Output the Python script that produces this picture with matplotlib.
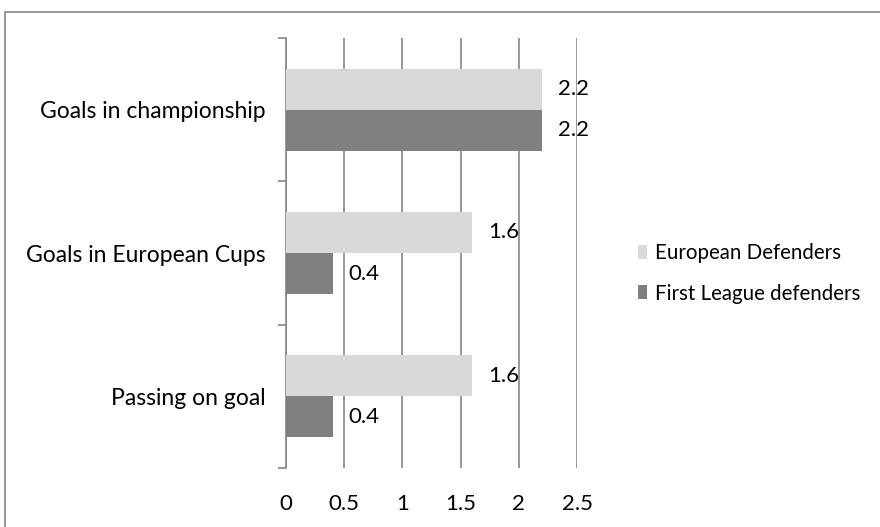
import matplotlib.pyplot as plt
import numpy as np
from matplotlib.patches import Rectangle

categories = ['Goals in championship', 'Goals in European Cups', 'Passing on goal']
european = [2.2, 1.6, 1.6]
first_league = [2.2, 0.4, 0.4]
xticks = [0, 0.5, 1, 1.5, 2, 2.5]
xticklabels = ['0', '0.5', '1', '1.5', '2', '2.5']

plt.rcParams['font.family'] = ['Lato', 'DejaVu Sans']

fig = plt.figure(figsize=(8.8, 5.27), dpi=100)
ax = fig.add_axes([286 / 880, 1 - 468 / 527, (577 - 286) / 880, (468 - 38) / 527])

# outer chart border
fig.patches.append(Rectangle((5 / 880, -0.1), 1.2, 1 - 12 / 527 + 0.1,
                             transform=fig.transFigure, fill=False,
                             edgecolor='#868686', lw=1.2))

y = np.arange(len(categories))
h = 0.287
ax.barh(y - h / 2, european, height=h, color='#d9d9d9', label='European Defenders', zorder=3)
ax.barh(y + h / 2, first_league, height=h, color='#808080', label='First League defenders', zorder=3)

for yi, v in zip(y, european):
    ax.text(v + 0.14, yi - h / 2, f'{v}', va='center', ha='left', fontsize=16, zorder=4)
for yi, v in zip(y, first_league):
    ax.text(v + 0.14, yi + h / 2, f'{v}', va='center', ha='left', fontsize=16, zorder=4)

ax.set_xlim(0, 2.5)
ax.set_ylim(len(categories) - 0.5, -0.5)
ax.set_xticks(xticks)
ax.set_xticklabels(xticklabels, fontsize=16)
ax.tick_params(axis='x', length=0, pad=19)
ax.xaxis.grid(True, color='#868686', lw=1.2, zorder=0)

ax.set_yticks(y)
ax.set_yticklabels(categories, fontsize=16.5)
ax.set_yticks(np.arange(len(categories) + 1) - 0.5, minor=True)
ax.tick_params(axis='y', which='major', length=0, pad=15)
ax.tick_params(axis='y', which='minor', length=6, color='#868686', width=1.2)

for s in ['top', 'right', 'bottom']:
    ax.spines[s].set_visible(False)
ax.spines['left'].set_color('#868686')
ax.spines['left'].set_linewidth(1.2)

handles, labels = ax.get_legend_handles_labels()
fig.legend(handles, labels, loc='upper left', bbox_to_anchor=(638 / 880, 1 - 243 / 527),
           frameon=False, fontsize=14.8, handlelength=0.45, handleheight=0.65,
           labelspacing=1.0, handletextpad=0.4, borderpad=0, borderaxespad=0)

fig.savefig('out.png', dpi=100)
